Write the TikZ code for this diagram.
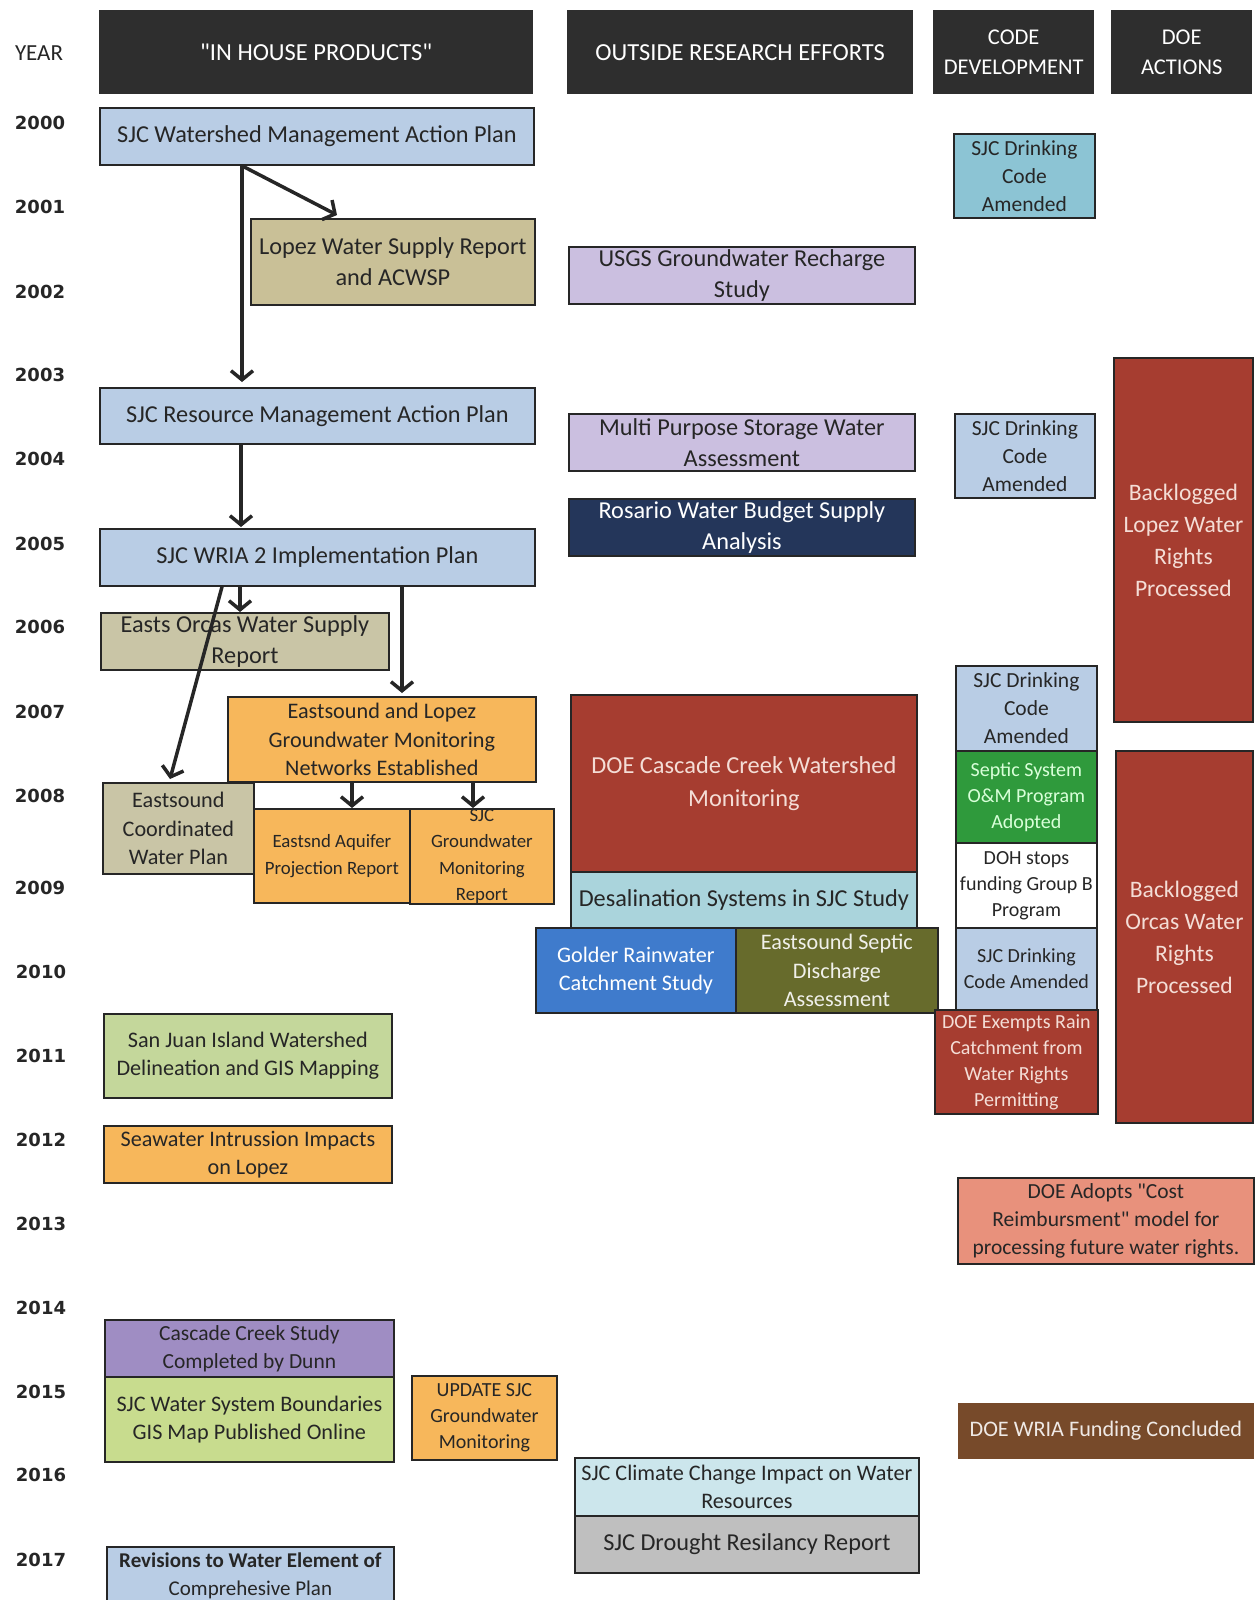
\documentclass[tikz,border=0pt]{standalone}
\usepackage{fontspec}
\setmainfont{Carlito}[Ligatures=TeXOff]
\newfontfamily\yearfont{DejaVu Sans}
\usetikzlibrary{arrows.meta,calc}
\definecolor{hdr}{HTML}{2E2E2E}
\definecolor{lc}{HTML}{262626}
\definecolor{tc}{HTML}{262626}
\definecolor{lblue}{HTML}{B9CDE5}
\definecolor{teal}{HTML}{8CC4D4}
\definecolor{tan}{HTML}{C9C097}
\definecolor{tangray}{HTML}{C9C5A6}
\definecolor{orng}{HTML}{F7B75B}
\definecolor{lav}{HTML}{CBBFE0}
\definecolor{navy}{HTML}{24365A}
\definecolor{rust}{HTML}{A63D30}
\definecolor{lcyan}{HTML}{AAD4DC}
\definecolor{gblue}{HTML}{3F7BCC}
\definecolor{olive}{HTML}{676B2C}
\definecolor{sgreen}{HTML}{2F9A3C}
\definecolor{lgreen}{HTML}{C4D79B}
\definecolor{lgreen2}{HTML}{C8DC8E}
\definecolor{purp}{HTML}{9F8DC3}
\definecolor{salmon}{HTML}{E8917C}
\definecolor{brown}{HTML}{774A2A}
\definecolor{pcyan}{HTML}{CCE6EC}
\definecolor{dgray}{HTML}{BFBFBF}
\definecolor{pinktext}{HTML}{F4DDD6}
\begin{document}
\begin{tikzpicture}[x=1pt,y=-1pt,
  bx/.style={draw=lc, line width=1.8pt, inner sep=0pt, align=center, anchor=north west, text=tc},
  wh/.style 2 args={minimum width=#1pt, minimum height=#2pt},
  hd/.style={fill=hdr, inner sep=0pt, align=center, anchor=north west, text=white},
  hdbig/.style={font=\fontsize{24.5}{30}\selectfont},
  hdsmall/.style={font=\fontsize{22.5}{30}\selectfont},
  fa/.style={font=\fontsize{24.3}{31.5}\selectfont},
  fb/.style={font=\fontsize{22.2}{28.5}\selectfont},
  fc/.style={font=\fontsize{21.5}{28}\selectfont},
  fe/.style={font=\fontsize{20}{26}\selectfont},
  fd/.style={font=\fontsize{18.8}{26.5}\selectfont},
  yr/.style={font=\yearfont\bfseries\fontsize{18}{20}\selectfont, text=tc, inner sep=0pt},
  arr/.style={draw=lc, line width=3.5pt, -{Straight Barb[length=9pt,width=22pt]}}]
\fill[white] (0,0) rectangle (1255,1600);
\useasboundingbox (0,0) rectangle (1255,1600);

% headers
\node[font=\fontsize{23}{26}\selectfont, text=tc, inner sep=0pt] (yearlbl) at (39,53) {YEAR};
\node[hd, hdbig, wh={434}{84}] (h1) at (99,10) {"IN HOUSE PRODUCTS"};
\node[hd, hdbig, wh={346}{84}] (h2) at (567,10) {OUTSIDE RESEARCH EFFORTS};
\node[hd, hdsmall, wh={161}{84}] (h3) at (933,10) {CODE\\DEVELOPMENT};
\node[hd, hdsmall, wh={141}{84}] (h4) at (1111,10) {DOE\\ACTIONS};

% years
\node[yr] (y2000) at (40,123) {2000};
\node[yr] (y2001) at (40,207) {2001};
\node[yr] (y2002) at (40,292) {2002};
\node[yr] (y2003) at (40,375) {2003};
\node[yr] (y2004) at (40,459) {2004};
\node[yr] (y2005) at (40,544) {2005};
\node[yr] (y2006) at (40,627) {2006};
\node[yr] (y2007) at (40,712) {2007};
\node[yr] (y2008) at (40,796) {2008};
\node[yr] (y2009) at (40,888) {2009};
\node[yr] (y2010) at (41,972) {2010};
\node[yr] (y2011) at (41,1056) {2011};
\node[yr] (y2012) at (41,1140) {2012};
\node[yr] (y2013) at (41,1224) {2013};
\node[yr] (y2014) at (41,1308) {2014};
\node[yr] (y2015) at (41,1392) {2015};
\node[yr] (y2016) at (41,1475) {2016};
\node[yr] (y2017) at (41,1560) {2017};

% in house products
\node[bx, wh={434}{57}, fill=lblue, fa] (wmap) at (99,107) {SJC Watershed Management Action Plan};
\node[bx, wh={284}{86}, fill=tan, fa] (lopez) at (250,218) {Lopez Water Supply Report\\and ACWSP};
\node[bx, wh={435}{56}, fill=lblue, fa] (rmap) at (99,387) {SJC Resource Management Action Plan};
\node[bx, wh={435}{57}, fill=lblue, fa] (wria) at (99,528) {SJC WRIA 2 Implementation Plan};
\node[bx, wh={288}{57}, fill=tangray, fa] (orcas) at (100,612) {Easts Orcas Water Supply\\Report};
\node[bx, wh={308}{85}, fill=orng, fb] (esl) at (227,696) {Eastsound and Lopez\\Groundwater Monitoring\\Networks Established};
\node[bx, wh={151}{91}, fill=tangray, fb] (ecwp) at (102,782) {Eastsound\\Coordinated\\Water Plan};
\node[bx, wh={156}{94}, fill=orng, fd] (aquifer) at (253,808) {Eastsnd Aquifer\\Projection Report};
\node[bx, wh={144}{94}, fill=orng, fd] (gwmr) at (409,808) {SJC\\Groundwater\\Monitoring\\Report};
\node[bx, wh={288}{84}, fill=lgreen, fb] (sjiw) at (103,1013) {San Juan Island Watershed\\Delineation and GIS Mapping};
\node[bx, wh={288}{57}, fill=orng, fb] (seaw) at (103,1125) {Seawater Intrussion Impacts\\on Lopez};
\node[bx, wh={289}{57}, fill=purp, fc] (ccs) at (104,1319) {Cascade Creek Study\\Completed by Dunn};
\node[bx, wh={289}{85}, fill=lgreen2, fb] (wsb) at (104,1376) {SJC Water System Boundaries\\GIS Map Published Online};
\node[bx, wh={145}{84}, fill=orng, fe] (upd) at (411,1375) {UPDATE SJC\\Groundwater\\Monitoring};
\node[bx, wh={287}{58}, fill=lblue, font=\fontsize{21}{28.5}\selectfont] (rev) at (106,1546) {\textbf{Revisions to Water Element of}\\Comprehesive Plan};

% outside research
\node[bx, wh={346}{57}, fill=lav, fa] (usgs) at (568,246) {USGS Groundwater Recharge\\Study};
\node[bx, wh={346}{57}, fill=lav, fa] (mpsw) at (568,413) {Multi Purpose Storage Water\\Assessment};
\node[bx, wh={346}{57}, fill=navy, fa, text=white] (rosario) at (568,498) {Rosario Water Budget Supply\\Analysis};
\node[bx, wh={346}{177}, fill=rust, text=pinktext, font=\fontsize{24.4}{33}\selectfont] (cascade) at (570,694) {DOE Cascade Creek Watershed\\Monitoring};
\node[bx, wh={346}{56}, fill=lcyan, fa] (desal) at (570,871) {Desalination Systems in SJC Study};
\node[bx, wh={200}{85}, fill=gblue, fb, text=white] (golder) at (535,927) {Golder Rainwater\\Catchment Study};
\node[bx, wh={202}{85}, fill=olive, fb, text=white!90!olive] (septicd) at (735,927) {Eastsound Septic\\Discharge\\Assessment};
\node[bx, wh={344}{58}, fill=pcyan, fb] (climate) at (574,1457) {SJC Climate Change Impact on Water\\Resources};
\node[bx, wh={344}{57}, fill=dgray, fa] (drought) at (574,1515) {SJC Drought Resilancy Report};

% code development
\node[bx, wh={141}{84}, fill=teal, fc] (c2000) at (953,133) {SJC Drinking\\Code\\Amended};
\node[bx, wh={140}{84}, fill=lblue, fc] (c2004) at (954,413) {SJC Drinking\\Code\\Amended};
\node[bx, wh={141}{85}, fill=lblue, fc] (c2007) at (955,665) {SJC Drinking\\Code\\Amended};
\node[bx, wh={141}{92}, fill=sgreen, fe, text=white!85!green] (septic) at (955,750) {Septic System\\O\&M Program\\Adopted};
\node[bx, wh={141}{85}, fill=white, fe] (doh) at (955,842) {DOH stops\\funding Group B\\Program};
\node[bx, wh={141}{82}, fill=lblue, fe] (c2010) at (955,927) {SJC Drinking\\Code Amended};
\node[bx, wh={163}{104}, fill=rust, fe, text=pinktext] (exempt) at (934,1009) {DOE Exempts Rain\\Catchment from\\Water Rights\\Permitting};
\node[bx, wh={296}{86}, fill=salmon, fc] (adopts) at (957,1177) {DOE Adopts "Cost\\Reimbursment" model for\\processing future water rights.};
\node[bx, draw=none, wh={296}{56}, fill=brown, fb, text=white!88!brown] (wriaf) at (957,1402) {DOE WRIA Funding Concluded};

% DOE actions
\node[bx, wh={139}{364}, fill=rust, text=pinktext, font=\fontsize{23.6}{32}\selectfont] (blopez) at (1113,357) {Backlogged\\Lopez Water\\Rights\\Processed};
\node[bx, wh={137}{372}, fill=rust, text=pinktext, font=\fontsize{23.6}{32}\selectfont] (borcas) at (1115,750) {Backlogged\\Orcas Water\\Rights\\Processed};

% arrows
\draw[arr] ([xshift=143pt]wmap.south west) -- ([xshift=143pt,yshift=5pt]rmap.north west);
\draw[arr] ([xshift=143pt]wmap.south west) -- ([xshift=87pt,yshift=3pt]lopez.north west);
\draw[arr] ([xshift=142pt]rmap.south west) -- ([xshift=142pt,yshift=1pt]wria.north west);
\draw[arr] ([xshift=141pt]wria.south west) -- ([xshift=140pt]orcas.north west);
\draw[arr] ([xshift=123pt]wria.south west) -- ([xshift=68pt,yshift=3pt]ecwp.north west);
\draw[arr] ([xshift=303pt]wria.south west) -- ([xshift=175pt,yshift=3pt]esl.north west);
\draw[arr] ([xshift=125pt]esl.south west) -- ([xshift=99pt]aquifer.north west);
\draw[arr] ([xshift=246pt]esl.south west) -- ([xshift=64pt]gwmr.north west);
\end{tikzpicture}
\end{document}
